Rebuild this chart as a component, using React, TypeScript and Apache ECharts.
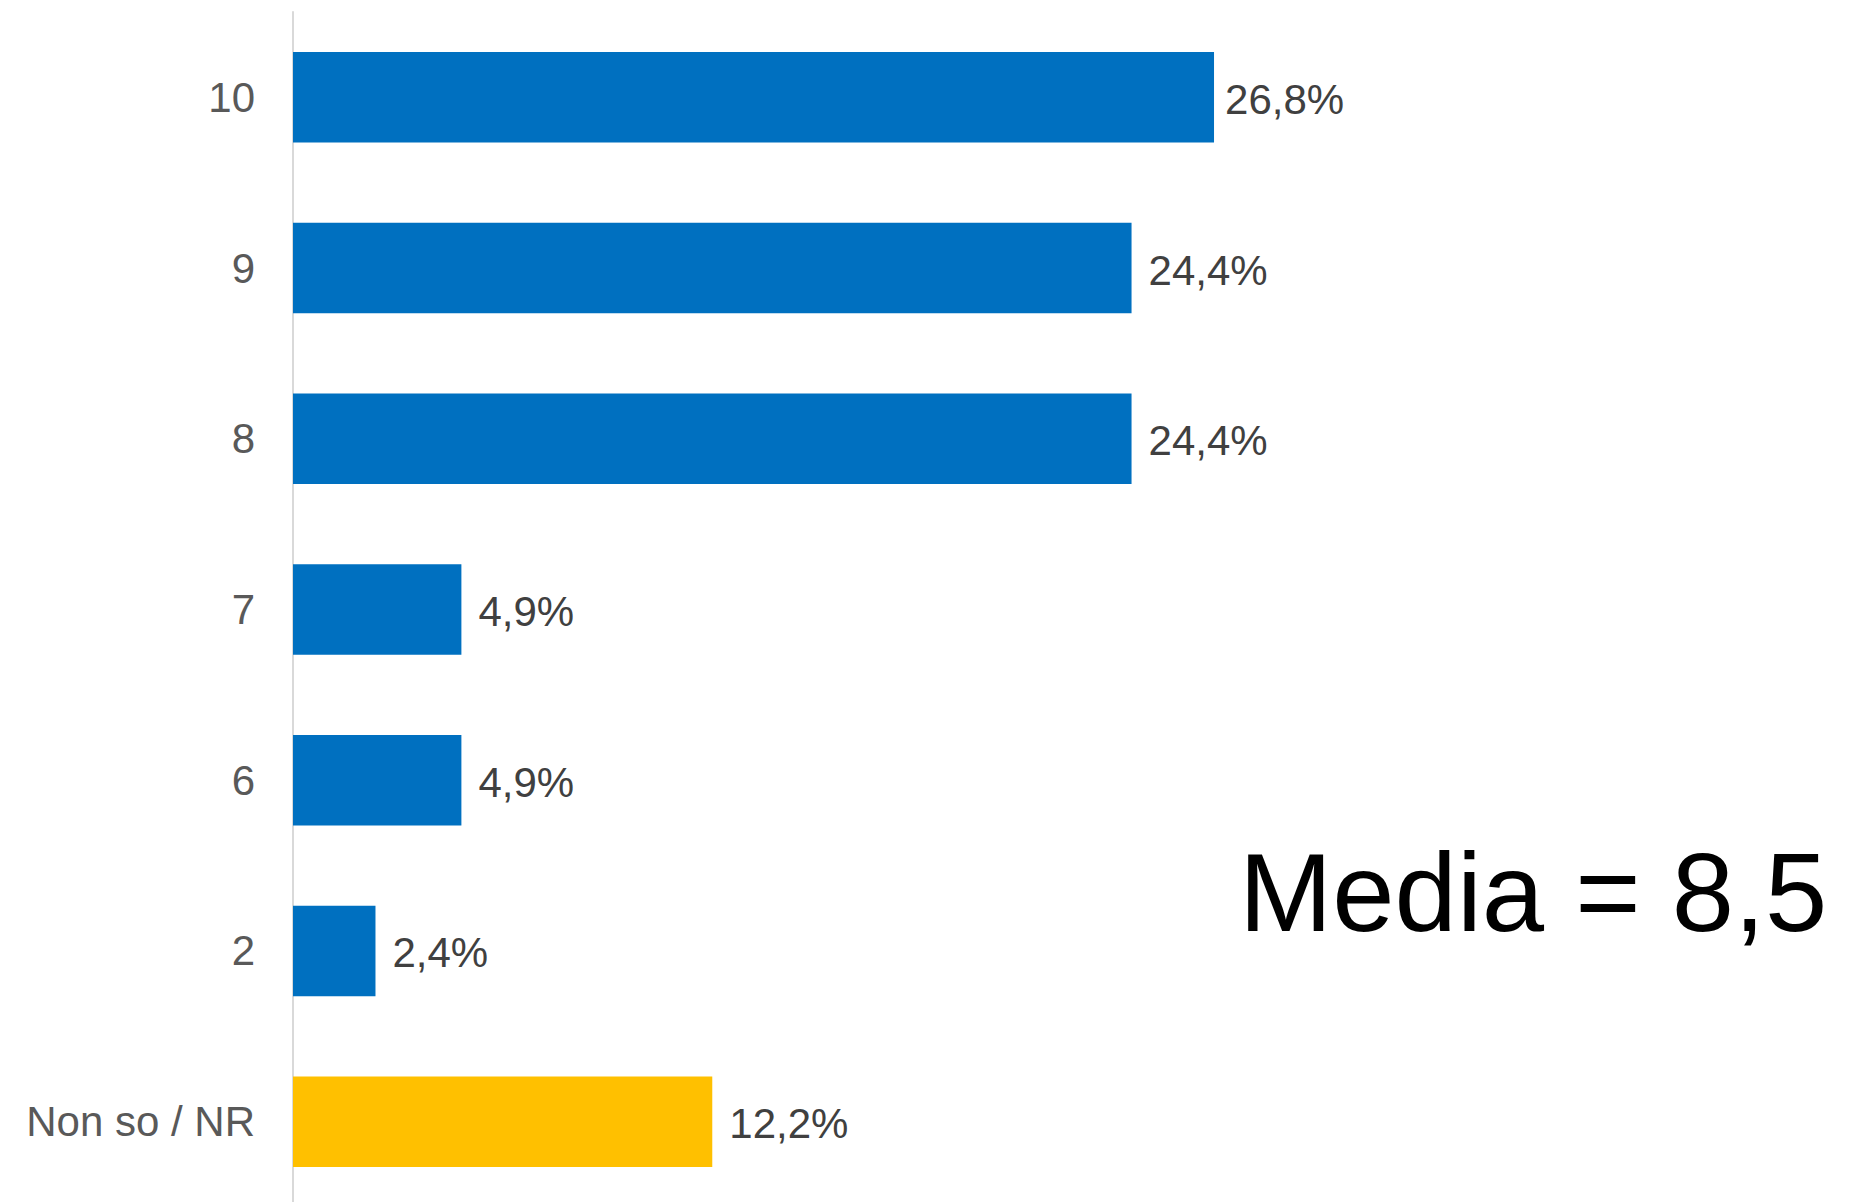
import React, { useEffect, useRef } from "react";
import * as echarts from "echarts";

const categories = ["10", "9", "8", "7", "6", "2", "Non so / NR"];
const values = [26.8, 24.4, 24.4, 4.9, 4.9, 2.4, 12.2];
const barColors = ["#0070C0", "#0070C0", "#0070C0", "#0070C0", "#0070C0", "#0070C0", "#FFC000"];
const labelGaps = [11, 17, 17, 17, 17, 17, 17];
const annotation = "Media = 8,5";

export default function App() {
  const ref = useRef<HTMLDivElement>(null);
  useEffect(() => {
    if (!ref.current) return;
    const chart = echarts.init(ref.current, null, { renderer: "svg" });
    chart.setOption({
      animation: false,
      backgroundColor: "#ffffff",
      grid: {
        left: 293,
        width: 1031,
        top: 12,
        height: 1195,
        containLabel: false,
        outerBoundsMode: "none",
      },
      xAxis: {
        type: "value",
        min: 0,
        max: 30,
        show: false,
      },
      yAxis: {
        type: "category",
        inverse: true,
        data: categories,
        axisLine: { show: true, lineStyle: { color: "#D9D9D9", width: 2 } },
        axisTick: { show: false },
        axisLabel: {
          color: "#595959",
          fontSize: 42,
          fontFamily: "Liberation Sans, Arial, sans-serif",
          margin: 38,
        },
      },
      series: [
        {
          type: "bar",
          barCategoryGap: "47%",
          data: values.map((v, i) => ({
            value: v,
            itemStyle: { color: barColors[i] },
            label: { distance: labelGaps[i] },
          })),
          label: {
            show: true,
            position: "right",
            color: "#404040",
            fontSize: 42,
            offset: [0, 2],
            fontFamily: "Liberation Sans, Arial, sans-serif",
            formatter: (p: any) => String(p.value.toFixed(1)).replace(".", ",") + "%",
          },
        },
      ],
      graphic: [
        {
          type: "text",
          left: 1239,
          top: 892 - 56,
          style: {
            text: annotation,
            fontSize: 112,
            fontFamily: "Liberation Sans, Arial, sans-serif",
            fill: "#000000",
          },
        },
      ],
    });
    return () => chart.dispose();
  }, []);
  return (
    <div
      ref={ref}
      style={{ position: "fixed", left: 0, top: 0, width: 1856, height: 1202 }}
    />
  );
}
